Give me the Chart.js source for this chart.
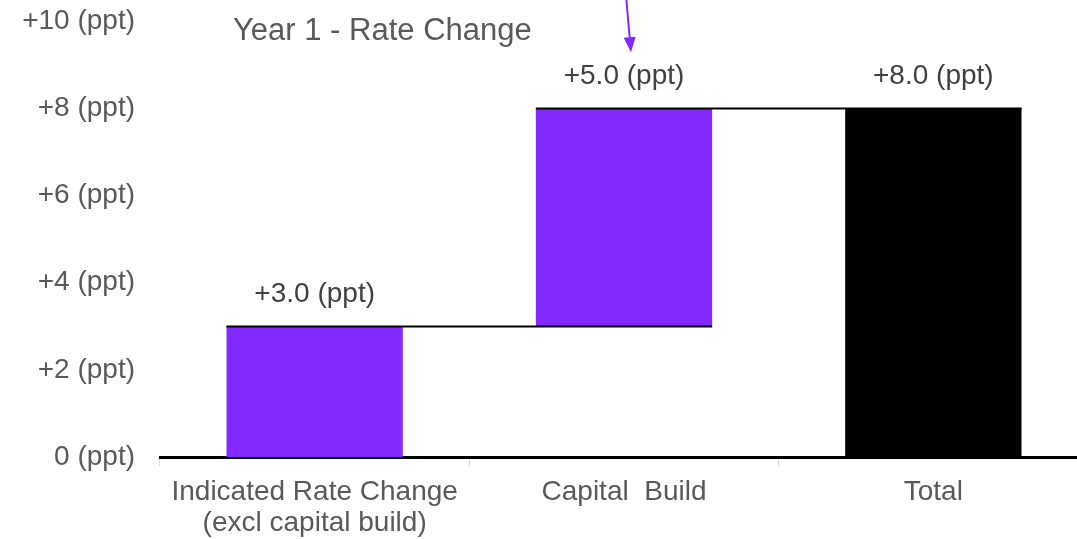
<!DOCTYPE html>
<html>
<head>
<meta charset="utf-8">
<script src="https://cdn.jsdelivr.net/npm/chart.js@4/dist/chart.umd.min.js"></script>
<style>
  html, body { margin: 0; padding: 0; background: #fff; overflow: hidden; }
  #wrap { position: relative; width: 1090px; height: 539px; }
</style>
</head>
<body>
<div id="wrap"><canvas id="chart"></canvas></div>
<script>
// --- data ---
const categories = [['Indicated Rate Change', '(excl capital build)'], 'Capital  Build', 'Total'];
const barStarts = [0, 3, 0];
const barEnds = [3, 8, 8];
const valueLabels = ['+3.0 (ppt)', '+5.0 (ppt)', '+8.0 (ppt)'];
const barColors = ['#8229ff', '#8229ff', '#000000'];
const yTicks = [0, 2, 4, 6, 8, 10];
const chartTitle = 'Year 1 - Rate Change';

const FONT = "'Liberation Sans', Arial, sans-serif";

// connector lines, value labels, title and the pointer arrow
const waterfallExtras = {
  id: 'waterfallExtras',
  afterDatasetsDraw(chart) {
    const ctx = chart.ctx;
    const bars = chart.getDatasetMeta(0).data;
    const y = chart.scales.y;

    ctx.save();
    // connectors
    ctx.strokeStyle = '#000';
    ctx.lineWidth = 2;
    for (let i = 0; i < bars.length - 1; i++) {
      const a = bars[i], b = bars[i + 1];
      const py = Math.round(y.getPixelForValue(barEnds[i])) + 0.5;
      ctx.beginPath();
      ctx.moveTo(a.x - a.width / 2, py);
      ctx.lineTo(b.x + b.width / 2, py);
      ctx.stroke();
    }

    // value labels
    ctx.fillStyle = '#404040';
    ctx.font = '28px ' + FONT;
    ctx.textAlign = 'center';
    ctx.textBaseline = 'middle';
    bars.forEach((bar, i) => {
      const top = y.getPixelForValue(barEnds[i]);
      ctx.fillText(valueLabels[i], bar.x, top - 32);
    });

    // title
    ctx.fillStyle = '#595959';
    ctx.font = '31px ' + FONT;
    ctx.textAlign = 'left';
    ctx.fillText(chartTitle, 233, 31);

    // arrow pointing at the capital build label
    const b = bars[1];
    const tipX = b.x + 7, tipY = y.getPixelForValue(barEnds[1]) - 56;
    const startX = b.x + 2, startY = -4;
    const ang = Math.atan2(tipY - startY, tipX - startX);
    ctx.strokeStyle = '#8229ff';
    ctx.fillStyle = '#8229ff';
    ctx.lineWidth = 2;
    ctx.beginPath();
    ctx.moveTo(startX, startY);
    ctx.lineTo(tipX - 12 * Math.cos(ang), tipY - 12 * Math.sin(ang));
    ctx.stroke();
    ctx.beginPath();
    ctx.moveTo(tipX, tipY);
    ctx.lineTo(tipX - 15 * Math.cos(ang) + 6 * Math.sin(ang), tipY - 15 * Math.sin(ang) - 6 * Math.cos(ang));
    ctx.lineTo(tipX - 15 * Math.cos(ang) - 6 * Math.sin(ang), tipY - 15 * Math.sin(ang) + 6 * Math.cos(ang));
    ctx.closePath();
    ctx.fill();
    ctx.restore();
  }
};

new Chart(document.getElementById('chart'), {
  type: 'bar',
  data: {
    labels: categories,
    datasets: [{
      data: barStarts.map((s, i) => [s, barEnds[i]]),
      backgroundColor: barColors,
      borderWidth: 0,
      categoryPercentage: 1,
      barPercentage: 0.57,
    }],
  },
  options: {
    responsive: true,
    maintainAspectRatio: false,
    animation: false,
    layout: { padding: { top: 21, right: 2, left: 0, bottom: 0 } },
    plugins: {
      legend: { display: false },
      tooltip: { enabled: false },
    },
    scales: {
      x: {
        grid: {
          display: true,
          drawOnChartArea: false,
          drawTicks: true,
          tickLength: 9,
          color: '#d9d9d9',
          offset: true,
        },
        border: { display: true, color: '#000', width: 3 },
        ticks: {
          color: '#595959',
          font: { size: 28, family: FONT, lineHeight: 1.1 },
          padding: 11,
          maxRotation: 0,
        },
        afterFit(scale) { scale.height = 82; },
      },
      y: {
        min: 0,
        max: 10,
        afterBuildTicks(scale) { scale.ticks = yTicks.map(v => ({ value: v })); },
        grid: { display: false, drawTicks: false },
        border: { display: false },
        ticks: {
          color: '#595959',
          font: { size: 28, family: FONT },
          padding: 25,
          callback: v => (v === 0 ? '0' : '+' + v) + ' (ppt)',
        },
        afterFit(scale) {
          scale.width = 160;
          scale.paddingTop = 0;
          scale.paddingBottom = 0;
        },
      },
    },
  },
  plugins: [waterfallExtras],
});
</script>
</body>
</html>
